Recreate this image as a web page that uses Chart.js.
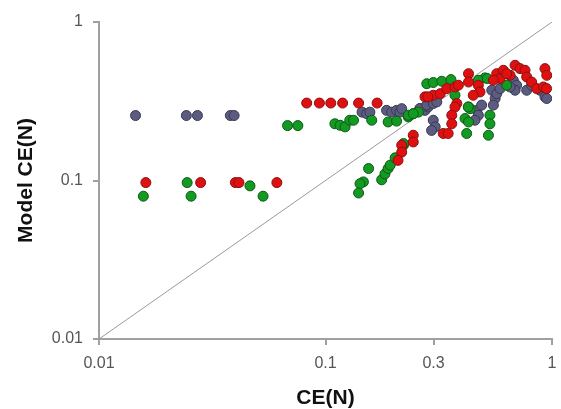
<!DOCTYPE html>
<html><head><meta charset="utf-8">
<script src="https://cdn.jsdelivr.net/npm/chart.js@4/dist/chart.umd.min.js"></script>
<style>html,body{margin:0;padding:0;background:#fff}#wrap{width:561px;height:409px}</style>
</head><body><div id="wrap"><canvas id="c"></canvas></div>
<script>
const xTicks = [0.01, 0.1, 0.3, 1];
const yTicks = [0.01, 0.1, 1];
const diagonal = [[0.01, 0.01], [1, 1]];

const blueX = [0.0145,0.0243,0.0272,0.0380,0.0395,0.145,0.152,0.157,0.186,0.196,0.206,0.213,0.261,0.275,0.284,0.217,0.261,0.280,0.299,0.310,0.299,0.305,0.294,0.466,0.473,0.457,0.489,0.542,0.561,0.551,0.570,0.590,0.675,0.698,0.687,0.773,0.813,0.885,0.931,0.948,0.653];
const blueY = [0.257,0.257,0.257,0.257,0.257,0.270,0.264,0.270,0.277,0.270,0.277,0.270,0.284,0.277,0.291,0.284,0.284,0.299,0.306,0.313,0.240,0.218,0.207,0.277,0.258,0.240,0.299,0.371,0.329,0.299,0.353,0.380,0.429,0.399,0.371,0.371,0.399,0.371,0.337,0.329,0.389];

const redX = [0.0161,0.0281,0.040,0.0415,0.061,0.0826,0.094,0.1055,0.119,0.140,0.169,0.244,0.244,0.217,0.217,0.209,0.428,0.428,0.473,0.481,0.449,0.380,0.373,0.361,0.361,0.331,0.348,0.275,0.299,0.321,0.343,0.373,0.386,0.570,0.590,0.610,0.653,0.687,0.723,0.760,0.773,0.813,0.857,0.916,0.931,0.948,0.631,0.551,0.283,0.946];
const redY = [0.097,0.097,0.097,0.097,0.097,0.308,0.308,0.308,0.308,0.308,0.308,0.193,0.175,0.167,0.151,0.134,0.472,0.418,0.399,0.362,0.345,0.306,0.291,0.258,0.228,0.198,0.198,0.337,0.345,0.353,0.380,0.389,0.399,0.472,0.440,0.496,0.461,0.533,0.508,0.496,0.450,0.418,0.380,0.389,0.508,0.461,0.472,0.429,0.337,0.380];

const greenX = [0.0157,0.0255,0.0245,0.0464,0.053,0.068,0.0755,0.110,0.116,0.122,0.128,0.133,0.160,0.189,0.206,0.232,0.244,0.257,0.155,0.147,0.142,0.140,0.177,0.183,0.189,0.193,0.203,0.221,0.280,0.299,0.326,0.358,0.373,0.428,0.435,0.413,0.428,0.420,0.506,0.532,0.532,0.524,0.631,0.232,0.244,0.221,0.473,0.518,0.427];
const greenY = [0.0796,0.0796,0.097,0.0925,0.0796,0.222,0.222,0.228,0.223,0.218,0.240,0.240,0.240,0.234,0.237,0.252,0.264,0.270,0.119,0.098,0.0955,0.0834,0.101,0.110,0.119,0.125,0.139,0.167,0.408,0.415,0.423,0.433,0.345,0.291,0.284,0.246,0.234,0.198,0.444,0.258,0.228,0.193,0.399,0.258,0.264,0.171,0.429,0.440,0.291];

const pts = (xs, ys) => xs.map((x, i) => ({x: x, y: ys[i]}));
const pointStyle = (fill, border) => ({
  type: 'scatter', backgroundColor: fill, borderColor: border, borderWidth: 1,
  pointRadius: 5, pointHoverRadius: 5
});
const tickFont = {family: 'Liberation Sans, Arial', size: 16};
const titleFont = {family: 'Liberation Sans, Arial', size: 21, weight: 'bold', lineHeight: 1.0};

new Chart(document.getElementById('c'), {
  data: {
    datasets: [
      Object.assign({data: pts(redX, redY)}, pointStyle('#e01010', '#8a1010')),
      Object.assign({data: pts(greenX, greenY)}, pointStyle('#139a23', '#0b5a14')),
      Object.assign({data: pts(blueX, blueY)}, pointStyle('#5c5c82', '#38384f')),
      {type: 'line', data: diagonal.map(d => ({x: d[0], y: d[1]})), borderColor: '#9a9a9a', borderWidth: 1, pointRadius: 0, fill: false}
    ]
  },
  options: {
    responsive: true, maintainAspectRatio: false, animation: false,
    layout: {autoPadding: false, padding: {top: 22, right: 9, left: 0, bottom: 0}},
    plugins: {legend: {display: false}, tooltip: {enabled: false}},
    scales: {
      x: {
        type: 'logarithmic', min: 0.01, max: 1,
        afterBuildTicks: a => { a.ticks = xTicks.map(v => ({value: v})); },
        afterFit: a => { a.height = 70; a.paddingRight = 0; a.paddingLeft = 0; },
        ticks: {color: '#555', font: tickFont, padding: 9, maxRotation: 0,
                callback: v => String(v)},
        grid: {display: true, drawOnChartArea: false, drawTicks: true, tickLength: 6, color: '#a0a0a0', lineWidth: 2},
        border: {color: '#a0a0a0', width: 2},
        title: {display: true, text: 'CE(N)', color: '#111', font: titleFont, padding: {top: 0, bottom: 0}}
      },
      y: {
        type: 'logarithmic', min: 0.01, max: 1,
        afterBuildTicks: a => { a.ticks = yTicks.map(v => ({value: v})); },
        afterFit: a => { a.width = 99; a.paddingTop = 0; a.paddingBottom = 0; },
        ticks: {color: '#555', font: tickFont, padding: 10,
                callback: v => String(v)},
        grid: {display: true, drawOnChartArea: false, drawTicks: true, tickLength: 6, color: '#a0a0a0', lineWidth: 2},
        border: {color: '#a0a0a0', width: 2},
        title: {display: true, text: 'Model CE(N)', color: '#111', font: titleFont, padding: {top: 16, bottom: 0}}
      }
    }
  }
});
</script>
</body></html>
